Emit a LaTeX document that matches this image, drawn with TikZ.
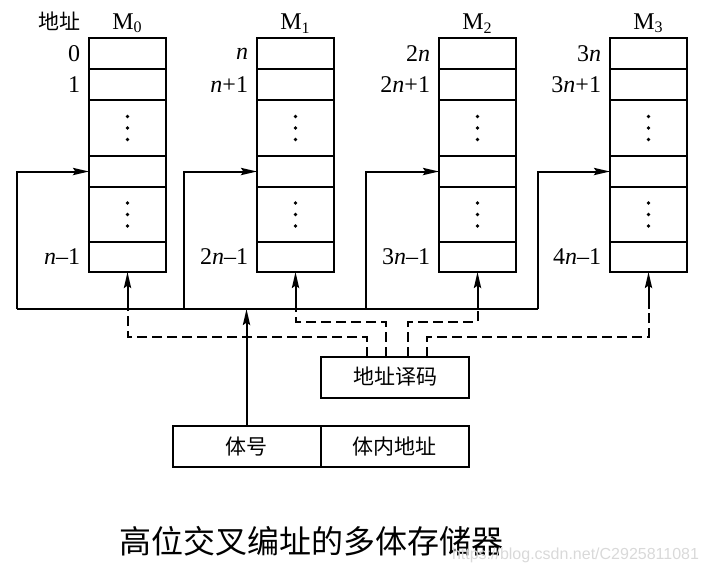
\documentclass[tikz,border=0pt]{standalone}
\usepackage{fontspec}
\setmainfont{Liberation Serif}
\newfontfamily\cjk{Noto Sans CJK SC}
\newfontfamily\wmfont{Liberation Sans}
\usetikzlibrary{positioning,arrows.meta,calc}

\begin{document}
\begin{tikzpicture}[x=0.5pt, y=-0.5pt,
    line width=1pt,
    every node/.style={font=\fontsize{12}{14}\selectfont},
    cell/.style={draw, minimum width=38.5pt, inner sep=0pt, outer sep=0pt},
    adr/.style={inner sep=0pt},
    cn/.style={font=\fontsize{10.5}{12}\cjk},
    box/.style={draw, minimum width=74pt, minimum height=20.5pt, outer sep=0pt, font=\fontsize{10.5}{12}\cjk},
    arr/.style={-{Stealth[length=8pt,width=3.6pt,inset=1.2pt]}},
    dsh/.style={dash pattern=on 5pt off 2.5pt}
]
    \useasboundingbox (0,0) rectangle (710,574);

    % four memory banks
    \foreach \i/\x/\a/\b/\c in {0/89/0/1/{\textit{n}--1},
        1/257/\textit{n}/{\textit{n}+1}/{2\textit{n}--1},
        2/439/{2\textit{n}}/{2\textit{n}+1}/{3\textit{n}--1},
        3/610/{3\textit{n}}/{3\textit{n}+1}/{4\textit{n}--1}} {
        \node[cell, minimum height=15.5pt] (c\i1) at (\x+38.5,53.5) {};
        \node[cell, minimum height=15.5pt, below=0pt of c\i1] (c\i2) {};
        \node[cell, minimum height=28pt, below=0pt of c\i2] (c\i3) {};
        \node[cell, minimum height=15.5pt, below=0pt of c\i3] (c\i4) {};
        \node[cell, minimum height=27.5pt, below=0pt of c\i4] (c\i5) {};
        \node[cell, minimum height=15pt, below=0pt of c\i5] (c\i6) {};
        \foreach \d in {-11.5,0,11.5} {
            \fill ($(c\i3)+(0,\d)$) circle (0.9pt);
            \fill ($(c\i5)+(0,\d)$) circle (0.9pt);
        }
        \node[above=1pt of c\i1, inner sep=1pt] (m\i) {M\textsubscript{\i}};
        \node[adr, left=4pt of c\i1] {\a};
        \node[adr, left=4pt of c\i2] {\b};
        \node[adr, left=4pt of c\i6] {\c};
    }
    \node[cn, anchor=base] (lab) at (59,0 |- m0.base) {地址};

    % bus to the banks
    \coordinate (e0) at (17,309);
    \coordinate (e1) at (184,309);
    \coordinate (e2) at (366,309);
    \coordinate (e3) at (538,309);
    \draw (e0) -- (e3);
    \foreach \i in {0,...,3}
        \draw[arr] (e\i) |- (c\i4.west);

    \node[box] (dec) at (395,377) {地址译码};
    \node[box] (rno) at (246.5,446.5) {体号};
    \node[box, right=0pt of rno] (roff) {体内地址};
    \draw[arr] (rno.north) -- (rno.north |- e0);

    % decoder select lines
    \foreach \i/\dx/\up in {0/-28/20, 1/-9/35, 2/13/35, 3/32/20} {
        \draw[dsh] ($(dec.north)+(\dx,0)$) -- ++(0,-\up) -| (c\i6.south |- e0);
        \draw[arr] (c\i6.south |- e0) -- (c\i6.south);
    }

    \node[font=\fontsize{16}{18}\cjk] (cap) at (311,541) {高位交叉编址的多体存储器};
    \node[anchor=east, text=gray!30, font=\fontsize{8}{9}\wmfont, inner sep=0pt] (wm) at (700,555) {https://blog.csdn.net/C2925811081};
\end{tikzpicture}
\end{document}
